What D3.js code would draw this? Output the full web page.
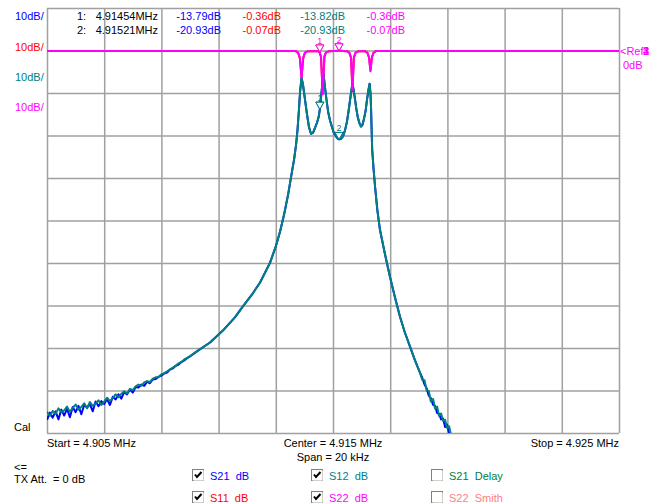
<!DOCTYPE html>
<html>
<head>
<meta charset="utf-8">
<script src="https://cdn.jsdelivr.net/npm/d3@7"></script>
<style>
body { margin: 0; background: #fff; }
text { font-family: "Liberation Sans", Arial, sans-serif; font-size: 11px; white-space: pre; }
.grid line { stroke: #a0a0a0; stroke-width: 1.5; }
.grid path { display: none; }
</style>
</head>
<body>
<svg id="chart" width="660" height="504"></svg>
<script>
// sweep 4.905 .. 4.925 MHz (values in kHz), 10 dB/div, ref 0 dB
var freqLow = [4905.0, 4905.1, 4905.2, 4905.3, 4905.4, 4905.5, 4905.6, 4905.7, 4905.8, 4905.9,
    4906.0, 4906.1, 4906.2, 4906.3, 4906.4, 4906.5, 4906.6, 4906.7, 4906.8, 4906.9,
    4907.0, 4907.1, 4907.2, 4907.3, 4907.4, 4907.5, 4907.6, 4907.7, 4907.8, 4907.9,
    4908.0, 4908.1, 4908.2, 4908.3, 4908.4, 4908.5, 4908.6, 4908.7, 4908.8, 4908.9,
    4909.0, 4909.1, 4909.2, 4909.3, 4909.4, 4909.5, 4909.6, 4909.7, 4909.8, 4909.9, 4910.0];
var s21Low = [-86.9, -85.2, -86.4, -84.9, -86.8, -84.5, -85.9, -84.3, -86.3, -83.9,
    -85.1, -83.6, -85.6, -83.4, -84.0, -83.2, -84.9, -82.6, -83.7, -82.5,
    -83.2, -82.0, -83.4, -81.5, -82.1, -80.9, -81.9, -80.4, -80.9, -79.8,
    -80.5, -79.2, -79.3, -78.6, -78.9, -77.9, -78.3, -77.4, -77.3, -76.8,
    -76.5, -76.0, -75.8, -75.1, -74.8, -74.2, -73.9, -73.3, -72.9, -72.4, -72.0];
var s12Low = [-85.0, -86.0, -84.8, -85.5, -84.2, -85.1, -84.7, -83.8, -85.0, -84.1,
    -83.3, -84.5, -83.9, -83.0, -84.2, -82.7, -83.6, -83.1, -82.3, -83.4,
    -82.6, -81.7, -82.5, -81.8, -80.9, -81.6, -80.8, -80.2, -80.7, -79.6,
    -79.9, -79.0, -78.6, -78.9, -78.1, -77.8, -78.0, -77.2, -76.9, -76.8,
    -76.2, -75.9, -75.5, -75.0, -74.6, -74.2, -73.6, -73.3, -72.7, -72.3, -71.9];

// skirts and passband, same for S21 and S12
var freqBand = [4910.24, 4910.70, 4911.15, 4911.57, 4911.85, 4912.17, 4912.45, 4912.80, 4913.01, 4913.15,
    4913.29, 4913.43, 4913.53, 4913.64, 4913.71, 4913.76, 4913.81, 4913.85, 4913.90, 4913.95,
    4914.02, 4914.09, 4914.16, 4914.23, 4914.30, 4914.37, 4914.44, 4914.50, 4914.54, 4914.59,
    4914.64, 4914.67, 4914.72, 4914.78, 4914.83, 4914.90, 4914.97, 4915.03, 4915.10, 4915.16,
    4915.21, 4915.28, 4915.35, 4915.42, 4915.49, 4915.55, 4915.59, 4915.64, 4915.68, 4915.72,
    4915.77, 4915.82, 4915.87, 4915.93, 4915.98, 4916.03, 4916.08, 4916.14, 4916.19, 4916.24,
    4916.28, 4916.31, 4916.33, 4916.35, 4916.37, 4916.42, 4916.47, 4916.55, 4916.64, 4916.82,
    4916.99, 4917.17, 4917.34, 4917.51, 4917.69, 4917.86, 4918.04];
var dbBand = [-70.8, -68.7, -65.9, -62.8, -60.2, -57.4, -54.6, -49.9, -45.9, -42.6,
    -38.6, -33.9, -29.9, -25.6, -22.1, -18.6, -13.9, -9.6, -6.4, -8.0,
    -11.5, -15.0, -18.0, -19.6, -19.4, -18.2, -17.0, -15.6, -13.8, -10.5,
    -7.0, -5.6, -8.7, -12.0, -14.4, -16.6, -18.1, -19.4, -20.2, -20.7,
    -20.9, -20.8, -20.2, -18.8, -16.7, -14.0, -12.0, -9.5, -7.8, -9.2,
    -11.5, -13.9, -15.8, -17.2, -17.9, -17.5, -16.2, -14.2, -11.5, -9.3,
    -7.8, -10.0, -13.4, -18.6, -23.3, -28.0, -32.0, -37.5, -42.1, -48.0,
    -53.2, -58.2, -62.6, -66.3, -69.6, -72.8, -75.8];

var freqTail = [4918.12, 4918.20, 4918.27, 4918.35, 4918.42, 4918.50, 4918.57, 4918.64,
    4918.71, 4918.78, 4918.85, 4918.92, 4918.99, 4919.06, 4919.13];
var s21Tail = [-77.0, -78.6, -79.4, -81.2, -81.8, -83.4, -83.6, -85.3, -85.5, -86.8, -86.6, -88.6, -88.0, -90.2, -90.8];
var s12Tail = [-77.5, -77.6, -79.9, -80.1, -82.6, -82.0, -84.3, -83.8, -86.0, -85.4, -87.2, -86.9, -88.8, -88.4, -90.6];

// reflection traces
var freqRefl = [4905.00, 4913.68, 4913.78, 4913.84, 4913.90, 4913.96, 4914.02, 4914.12, 4914.48, 4914.53,
    4914.58, 4914.64, 4914.70, 4914.75, 4914.85, 4915.21, 4915.50, 4915.57, 4915.63, 4915.68,
    4915.73, 4915.79, 4915.89, 4916.13, 4916.20, 4916.26, 4916.31, 4916.36, 4916.42, 4916.52, 4925.00];
var s22Db = [-0.1, -0.1, -0.5, -1.6, -6.4, -1.6, -0.5, -0.2, -0.2, -0.36,
    -1.4, -10.3, -1.4, -0.5, -0.2, -0.07, -0.2, -0.5, -1.6, -9.2,
    -1.6, -0.5, -0.2, -0.2, -0.5, -1.6, -4.9, -1.6, -0.5, -0.1, -0.1];
var s11Db = [-0.1, -0.1, -0.6, -1.8, -6.2, -1.8, -0.5, -0.2, -0.2, -0.36,
    -1.5, -10.0, -1.5, -0.5, -0.2, -0.07, -0.2, -0.5, -1.7, -9.6,
    -1.7, -0.5, -0.2, -0.2, -0.5, -1.6, -4.7, -1.6, -0.5, -0.1, -0.1];

// markers
var markerFreq = [4914.54, 4915.21];
var markerLabel = ["4.91454MHz", "4.91521MHz"];
var markerS21 = [-13.79, -20.93];
var markerS11 = [-0.36, -0.07];
var markerS12 = [-13.82, -20.93];
var markerS22 = [-0.36, -0.07];

var colS21 = "#0000ff", colS11 = "#ff0000", colS12 = "#008080", colS22 = "#ff00ff";

var margin = {top: 8, left: 47},
    width = 572,
    height = 425;

var svg = d3.select("#chart");
var g = svg.append("g")
    .attr("transform", "translate(" + margin.left + "," + margin.top + ")");

var x = d3.scaleLinear().domain([4905, 4925]).range([0, width]);
var y = d3.scaleLinear().domain([-90, 10]).range([height, 0]);

// grid
g.append("g")
    .attr("class", "grid")
    .attr("transform", "translate(0," + height + ")")
    .call(d3.axisBottom(x).tickValues(d3.range(4905, 4926, 2)).tickSize(-height).tickFormat(""));
g.append("g")
    .attr("class", "grid")
    .call(d3.axisLeft(y).tickValues(d3.range(-90, 11, 10)).tickSize(-width).tickFormat(""));

g.append("clipPath").attr("id", "plotclip")
    .append("rect").attr("x", 0).attr("y", -2).attr("width", width).attr("height", height + 2);

function zip(f, v) {
    return f.map(function(d, i) { return [d, v[i]]; });
}

var s21 = zip(freqLow, s21Low).concat(zip(freqBand, dbBand), zip(freqTail, s21Tail));
var s12 = zip(freqLow, s12Low).concat(zip(freqBand, dbBand), zip(freqTail, s12Tail));
var s11 = zip(freqRefl, s11Db);
var s22 = zip(freqRefl, s22Db);

var line = d3.line()
    .x(function(d) { return x(d[0]); })
    .y(function(d) { return y(d[1]); });

var traces = g.append("g").attr("clip-path", "url(#plotclip)");

[[s21, colS21], [s11, colS11], [s12, colS12], [s22, colS22]].forEach(function(t) {
    traces.append("path")
        .datum(t[0])
        .attr("d", line)
        .attr("fill", "none")
        .attr("stroke", t[1])
        .attr("stroke-width", 2)
        .attr("stroke-linejoin", "round");
});

// marker triangles (S21/S11 ones sit under S12/S22)
function drawMarkers(vals, col, withNumber) {
    vals.forEach(function(v, i) {
        var px = x(markerFreq[i]), py = y(v);
        g.append("path")
            .attr("d", "M" + (px - 4) + "," + (py - 7) + "L" + (px + 4) + "," + (py - 7) + "L" + px + "," + py + "Z")
            .attr("fill", "#fff")
            .attr("stroke", col)
            .attr("stroke-width", 1);
        if (withNumber) {
            g.append("text")
                .attr("x", px).attr("y", py - 8)
                .attr("text-anchor", "middle")
                .style("font-size", "9px")
                .attr("fill", col)
                .text(i + 1);
        }
    });
}
drawMarkers(markerS21, colS21, false);
drawMarkers(markerS11, colS11, false);
drawMarkers(markerS12, colS12, true);
drawMarkers(markerS22, colS22, true);

// scale labels on the left
[[colS21, 20], [colS11, 51], [colS12, 81], [colS22, 111]].forEach(function(d) {
    svg.append("text").attr("x", 15).attr("y", d[1]).attr("fill", d[0]).text("10dB/");
});

// marker readout
markerFreq.forEach(function(f, i) {
    var by = 20 + i * 14;
    svg.append("text").attr("x", 77).attr("y", by).attr("fill", "#000").text((i + 1) + ":");
    svg.append("text").attr("x", 158).attr("y", by).attr("text-anchor", "end").attr("fill", "#000").text(markerLabel[i]);
    svg.append("text").attr("x", 221).attr("y", by).attr("text-anchor", "end").attr("fill", colS21).text(markerS21[i].toFixed(2) + "dB");
    svg.append("text").attr("x", 281).attr("y", by).attr("text-anchor", "end").attr("fill", colS11).text(markerS11[i].toFixed(2) + "dB");
    svg.append("text").attr("x", 345).attr("y", by).attr("text-anchor", "end").attr("fill", colS12).text(markerS12[i].toFixed(2) + "dB");
    svg.append("text").attr("x", 405).attr("y", by).attr("text-anchor", "end").attr("fill", colS22).text(markerS22[i].toFixed(2) + "dB");
});

// reference
svg.append("text").attr("x", 620).attr("y", 55).attr("fill", colS22).text("<Ref");
["1", "2", "3", "4"].forEach(function(n) {
    svg.append("text").attr("x", 643).attr("y", 55).attr("fill", colS22).text(n);
});
svg.append("text").attr("x", 623).attr("y", 69).attr("fill", colS22).text("0dB");

// sweep info
svg.append("text").attr("x", 14).attr("y", 431).attr("fill", "#000").text("Cal");
svg.append("text").attr("x", 47).attr("y", 447).attr("fill", "#000").text("Start = 4.905 MHz");
svg.append("text").attr("x", 333).attr("y", 447).attr("text-anchor", "middle").attr("fill", "#000").text("Center = 4.915 MHz");
svg.append("text").attr("x", 333).attr("y", 461).attr("text-anchor", "middle").attr("fill", "#000").text("Span = 20 kHz");
svg.append("text").attr("x", 619).attr("y", 447).attr("text-anchor", "end").attr("fill", "#000").text("Stop = 4.925 MHz");
svg.append("text").attr("x", 14).attr("y", 471).attr("fill", "#000").text("<=");
svg.append("text").attr("x", 14).attr("y", 483).attr("fill", "#000").text("TX Att.  = 0 dB");

// trace check boxes
var boxes = [
    {x: 192, y: 469, label: "S21  dB", col: colS21, on: true},
    {x: 192, y: 491, label: "S11  dB", col: colS11, on: true},
    {x: 311, y: 469, label: "S12  dB", col: colS12, on: true},
    {x: 311, y: 491, label: "S22  dB", col: colS22, on: true},
    {x: 431, y: 469, label: "S21  Delay", col: "#008040", on: false},
    {x: 431, y: 491, label: "S22  Smith", col: "#ff8080", on: false}
];
boxes.forEach(function(b) {
    svg.append("rect").attr("x", b.x + 0.5).attr("y", b.y + 0.5).attr("width", 11).attr("height", 11)
        .attr("fill", "#fff").attr("stroke", "#808080").attr("stroke-width", 1);
    svg.append("path")
        .attr("d", "M" + (b.x + 1.5) + "," + (b.y + 11.5) + "H" + (b.x + 11.5) + "V" + (b.y + 1.5))
        .attr("fill", "none").attr("stroke", "#d4d0c8").attr("stroke-width", 1);
    if (b.on) {
        svg.append("path")
            .attr("d", "M" + (b.x + 3) + "," + (b.y + 5.5) + "L" + (b.x + 5) + "," + (b.y + 8) + "L" + (b.x + 9.5) + "," + (b.y + 3))
            .attr("fill", "none").attr("stroke", "#000").attr("stroke-width", 2);
    }
    svg.append("text").attr("x", b.x + 18).attr("y", b.y + 11).attr("fill", b.col).text(b.label);
});
</script>
</body>
</html>
